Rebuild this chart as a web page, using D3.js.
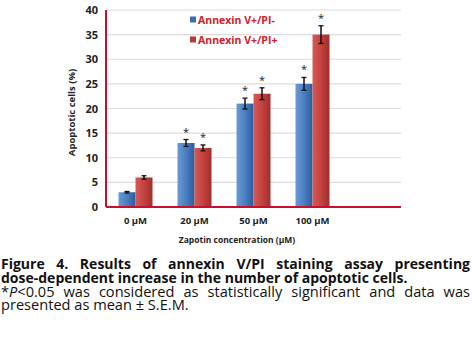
<!DOCTYPE html>
<html>
<head>
<meta charset="utf-8">
<script src="https://cdn.jsdelivr.net/npm/d3@7"></script>
<style>
  body { margin: 0; background: #fff; }
  #chart { display: block; }
  .caption { position: absolute; left: 1px; top: 257px; width: 469px; font-family: "Open Sans", sans-serif; color: #111; text-align: justify; }
  .caption div { height: 13.8px; line-height: 13.8px; }
  .caption .b { font-weight: 700; font-size: 14px; }
  .caption .r { font-size: 14.6px; }
  .caption .j { text-align-last: justify; }
</style>
</head>
<body>
<svg id="chart" width="472" height="354"></svg>
<div class="caption">
  <div class="b j">Figure 4. Results of annexin V/PI staining assay presenting</div>
  <div class="b">dose-dependent increase in the number of apoptotic cells.</div>
  <div class="r j">*<i>P</i>&lt;0.05 was considered as statistically significant and data was</div>
  <div class="r">presented as mean ± S.E.M.</div>
</div>
<script>
const categories = ['0 µM', '20 µM', '50 µM', '100 µM', '']
const seriesNames = ['Annexin V+/PI-', 'Annexin V+/PI+']
const pineg = [3, 13, 21, 25]
const pipos = [6, 12, 23, 35]
const pinegErr = [0.15, 0.7, 1.1, 1.3]
const piposErr = [0.35, 0.6, 1.2, 1.8]
const pinegSig = [false, true, true, true]
const piposSig = [false, true, true, true]
const yTicks = [0, 5, 10, 15, 20, 25, 30, 35, 40]

const svg = d3.select('#chart')
const pLeft = 106, pRight = 401, pTop = 10, pBottom = 207

const x = d3.scaleBand().domain(categories).range([pLeft, pRight])
const inner = d3.scaleBand().domain(seriesNames).range([0, 34])
const y = d3.scaleLinear().domain([0, 40]).range([pBottom, pTop])

const defs = svg.append('defs')
const grads = [
  {id: 'gBlue', stops: ['#6a9ad6', '#4a7fc2', '#2d5c9c']},
  {id: 'gRed', stops: ['#d45b58', '#c4423f', '#9e2e2c']}
]
grads.forEach(g => {
  const lg = defs.append('linearGradient').attr('id', g.id).attr('x1', 0).attr('x2', 1).attr('y1', 0).attr('y2', 0)
  g.stops.forEach((c, i) => lg.append('stop').attr('offset', i / (g.stops.length - 1)).attr('stop-color', c))
})
const fills = ['url(#gBlue)', 'url(#gRed)']
const swatch = ['#3b6fb4', '#b83a38']

// grid
svg.append('g')
  .selectAll('line')
  .data(yTicks.filter(t => t > 0))
  .enter()
  .append('line')
  .attr('x1', pLeft).attr('x2', pRight)
  .attr('y1', d => y(d)).attr('y2', d => y(d))
  .attr('stroke', '#dcdcdc').attr('stroke-width', 1.2)

// y axis labels
const yAxis = svg.append('g')
  .attr('transform', `translate(${pLeft},0)`)
  .call(d3.axisLeft(y).tickValues(yTicks).tickSize(0).tickPadding(8))
yAxis.select('.domain').remove()
yAxis.selectAll('text')
  .attr('font-family', 'Open Sans, sans-serif').attr('font-size', 11).attr('font-weight', 700).attr('fill', '#222')

// x axis labels
const xAxis = svg.append('g')
  .attr('transform', `translate(0,${pBottom})`)
  .call(d3.axisBottom(x).tickSize(0).tickPadding(10))
xAxis.select('.domain').remove()
xAxis.selectAll('text')
  .attr('font-family', 'Open Sans, sans-serif').attr('font-size', 9.5).attr('font-weight', 700).attr('fill', '#222')

const groups = [
  {vals: pineg, err: pinegErr, sig: pinegSig},
  {vals: pipos, err: piposErr, sig: piposSig}
]

groups.forEach((g, si) => {
  const gx = d => x(categories[d.i]) + (x.bandwidth() - 34) / 2 + inner(seriesNames[si])
  const data = g.vals.map((v, i) => ({i, v, e: g.err[i], s: g.sig[i]}))
  const layer = svg.append('g')
  layer.selectAll('.bar')
    .data(data)
    .enter()
    .append('rect')
    .classed('bar', true)
    .attr('x', gx)
    .attr('width', inner.bandwidth())
    .attr('y', d => y(d.v))
    .attr('height', d => y(0) - y(d.v))
    .attr('fill', fills[si])
  // error bars
  const eb = layer.selectAll('.err').data(data).enter().append('g').classed('err', true)
  const cx = d => gx(d) + inner.bandwidth() / 2
  eb.append('line').attr('x1', cx).attr('x2', cx).attr('y1', d => y(d.v - d.e)).attr('y2', d => y(d.v + d.e)).attr('stroke', '#111').attr('stroke-width', 1.5)
  eb.append('line').attr('x1', d => cx(d) - 2.5).attr('x2', d => cx(d) + 2.5).attr('y1', d => y(d.v + d.e)).attr('y2', d => y(d.v + d.e)).attr('stroke', '#111').attr('stroke-width', 1.3)
  eb.append('line').attr('x1', d => cx(d) - 2.5).attr('x2', d => cx(d) + 2.5).attr('y1', d => y(d.v - d.e)).attr('y2', d => y(d.v - d.e)).attr('stroke', '#111').attr('stroke-width', 1.3)
  layer.selectAll('.star').data(data.filter(d => d.s)).enter().append('text')
    .attr('x', cx).attr('y', d => y(d.v + d.e) - 4)
    .attr('text-anchor', 'middle')
    .attr('font-family', 'Open Sans, sans-serif').attr('font-size', 11).attr('fill', '#222')
    .text('*')
})

// axis lines
svg.append('line').attr('x1', pLeft).attr('x2', pLeft).attr('y1', pTop).attr('y2', pBottom).attr('stroke', '#c8102e').attr('stroke-width', 2)
svg.append('line').attr('x1', pLeft).attr('x2', pRight).attr('y1', pBottom).attr('y2', pBottom).attr('stroke', '#c8102e').attr('stroke-width', 2)

// legend
const legend = svg.append('g').selectAll('g').data(seriesNames).enter().append('g')
  .attr('transform', (d, i) => `translate(190,${19.5 + i * 20})`)
legend.append('rect').attr('x', 0).attr('y', -3).attr('width', 6).attr('height', 6).attr('fill', (d, i) => swatch[i])
legend.append('text').attr('x', 8).attr('y', 4)
  .attr('font-family', 'Open Sans, sans-serif').attr('font-size', 10.5).attr('font-weight', 700).attr('fill', '#d0202a')
  .text(d => d)

// axis titles
svg.append('text')
  .attr('transform', `translate(75,${(pTop + pBottom) / 2 + 4}) rotate(-90)`)
  .attr('text-anchor', 'middle')
  .attr('font-family', 'Open Sans, sans-serif').attr('font-size', 9.5).attr('font-weight', 700).attr('fill', '#222')
  .text('Apoptotic cells (%)')
svg.append('text')
  .attr('x', 237).attr('y', 243)
  .attr('text-anchor', 'middle')
  .attr('font-family', 'Open Sans, sans-serif').attr('font-size', 8.5).attr('font-weight', 700).attr('fill', '#222')
  .text('Zapotin concentration (µM)')
</script>
</body>
</html>
